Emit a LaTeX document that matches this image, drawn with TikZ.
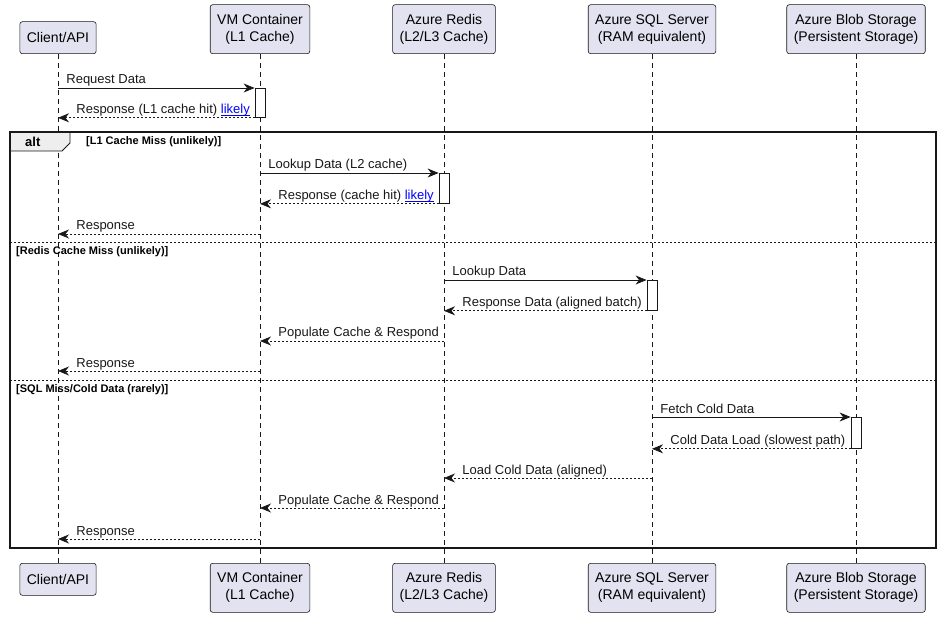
\documentclass[tikz,border=0pt]{standalone}
\usepackage{fontspec}
\setmainfont{Liberation Sans}
\usetikzlibrary{positioning,arrows.meta}
\definecolor{partFill}{HTML}{E2E2F0}
\definecolor{lineGry}{HTML}{181818}
\definecolor{tabFill}{HTML}{EEEEEE}
\definecolor{linkBlu}{HTML}{0000FF}
\tikzstyle{styPart}=[rectangle,draw=lineGry,fill=partFill,rounded corners=2.5pt,align=center,inner xsep=7pt,inner ysep=0pt,font=\fontsize{14}{17}\selectfont,line width=0.6pt]
\tikzstyle{styOne}=[styPart,minimum height=32pt]
\tikzstyle{styTwo}=[styPart,minimum height=49pt]
\tikzstyle{styAct}=[rectangle,draw=lineGry,fill=white,minimum width=10pt,inner sep=0pt,anchor=north,line width=0.8pt]
\tikzstyle{styLife}=[lineGry,dash pattern=on 5pt off 4pt,line width=0.5pt]
\tikzstyle{myarrow}=[-{Stealth[length=11pt,width=9pt,inset=3.5pt]},lineGry,line width=0.8pt]
\tikzstyle{myreturn}=[myarrow,dash pattern=on 2pt off 2pt]
\tikzstyle{styMsg}=[solid,font=\fontsize{13}{15}\selectfont,inner sep=0pt,anchor=base west,yshift=4pt]
\tikzstyle{styGrd}=[font=\fontsize{11}{13}\selectfont\bfseries,inner sep=0pt,anchor=base west]
\tikzstyle{stySep}=[lineGry,dash pattern=on 2pt off 2pt,line width=0.6pt]
\newcommand{\likely}{{\color{linkBlu}\setbox0\hbox{likely}\rlap{\rule[-1.6pt]{\wd0}{0.8pt}}\box0}}

\begin{document}
\begin{tikzpicture}[x=1pt,y=-1pt]
\useasboundingbox (0,0) rectangle (942,617);

% participants
\node[styOne,anchor=south] (topCli) at (58,54) {Client/API};
\node[styTwo,anchor=south] (topVm) at (260,54) {VM Container\\(L1 Cache)};
\node[styTwo,anchor=south] (topRed) at (444,54) {Azure Redis\\(L2/L3 Cache)};
\node[styTwo,anchor=south] (topSql) at (652,54) {Azure SQL Server\\(RAM equivalent)};
\node[styTwo,anchor=south] (topBlob) at (856,54) {Azure Blob Storage\\(Persistent Storage)};

\node[styOne,below=509pt of topCli] (botCli) {Client/API};
\node[styTwo,below=509pt of topVm] (botVm) {VM Container\\(L1 Cache)};
\node[styTwo,below=509pt of topRed] (botRed) {Azure Redis\\(L2/L3 Cache)};
\node[styTwo,below=509pt of topSql] (botSql) {Azure SQL Server\\(RAM equivalent)};
\node[styTwo,below=509pt of topBlob] (botBlob) {Azure Blob Storage\\(Persistent Storage)};

\foreach \p in {Cli,Vm,Red,Sql,Blob}
  \draw[styLife] (top\p) -- (bot\p);

% alt frame
\draw[lineGry,fill=tabFill,line width=0.8pt] (10,132) -- (70,132) -- (70,143) -- (62,151) -- (10,151) -- cycle;
\node[font=\fontsize{13}{15}\selectfont\bfseries,inner sep=0pt,anchor=base west] (altLbl) at (25,147) {alt};
\draw[lineGry,line width=1.5pt] (10,132) rectangle (936,548);
\draw[stySep] (10,242) -- (936,242);
\draw[stySep] (10,380) -- (936,380);
\node[styGrd] (grdL1) at (86,145) {[L1 Cache Miss (unlikely)]};
\node[styGrd] (grdRed) at (16,255) {[Redis Cache Miss (unlikely)]};
\node[styGrd] (grdSql) at (16,392) {[SQL Miss/Cold Data (rarely)]};

% activations
\node[styAct,minimum height=29pt] (actVm) at (260,88) {};
\node[styAct,minimum height=30pt] (actRed) at (444,173) {};
\node[styAct,minimum height=30pt] (actSql) at (652,280) {};
\node[styAct,minimum height=31pt] (actBlob) at (856,417) {};

% rows without activation
\coordinate (r5) at (0,234);
\coordinate (r8) at (0,341);
\coordinate (r9) at (0,371);
\coordinate (r12) at (0,478);
\coordinate (r13) at (0,508);
\coordinate (r14) at (0,539);

% messages
\draw[myarrow] (topCli |- actVm.north) -- node[styMsg,pos=0,xshift=8pt] (m1) {Request Data} (actVm.north west);
\draw[myreturn] (actVm.south west) -- node[styMsg,pos=1,xshift=18pt] (m2) {Response (L1 cache hit) \likely} (topCli |- actVm.south);

\draw[myarrow] (topVm |- actRed.north) -- node[styMsg,pos=0,xshift=8pt] (m3) {Lookup Data (L2 cache)} (actRed.north west);
\draw[myreturn] (actRed.south west) -- node[styMsg,pos=1,xshift=18pt] (m4) {Response (cache hit) \likely} (topVm |- actRed.south);
\draw[myreturn] (topVm |- r5) -- node[styMsg,pos=1,xshift=18pt] (m5) {Response} (topCli |- r5);

\draw[myarrow] (topRed |- actSql.north) -- node[styMsg,pos=0,xshift=8pt] (m6) {Lookup Data} (actSql.north west);
\draw[myreturn] (actSql.south west) -- node[styMsg,pos=1,xshift=18pt] (m7) {Response Data (aligned batch)} (topRed |- actSql.south);
\draw[myreturn] (topRed |- r8) -- node[styMsg,pos=1,xshift=18pt] (m8) {Populate Cache \& Respond} (topVm |- r8);
\draw[myreturn] (topVm |- r9) -- node[styMsg,pos=1,xshift=18pt] (m9) {Response} (topCli |- r9);

\draw[myarrow] (topSql |- actBlob.north) -- node[styMsg,pos=0,xshift=8pt] (m10) {Fetch Cold Data} (actBlob.north west);
\draw[myreturn] (actBlob.south west) -- node[styMsg,pos=1,xshift=18pt] (m11) {Cold Data Load (slowest path)} (topSql |- actBlob.south);
\draw[myreturn] (topSql |- r12) -- node[styMsg,pos=1,xshift=18pt] (m12) {Load Cold Data (aligned)} (topRed |- r12);
\draw[myreturn] (topRed |- r13) -- node[styMsg,pos=1,xshift=18pt] (m13) {Populate Cache \& Respond} (topVm |- r13);
\draw[myreturn] (topVm |- r14) -- node[styMsg,pos=1,xshift=18pt] (m14) {Response} (topCli |- r14);

\end{tikzpicture}
\end{document}
